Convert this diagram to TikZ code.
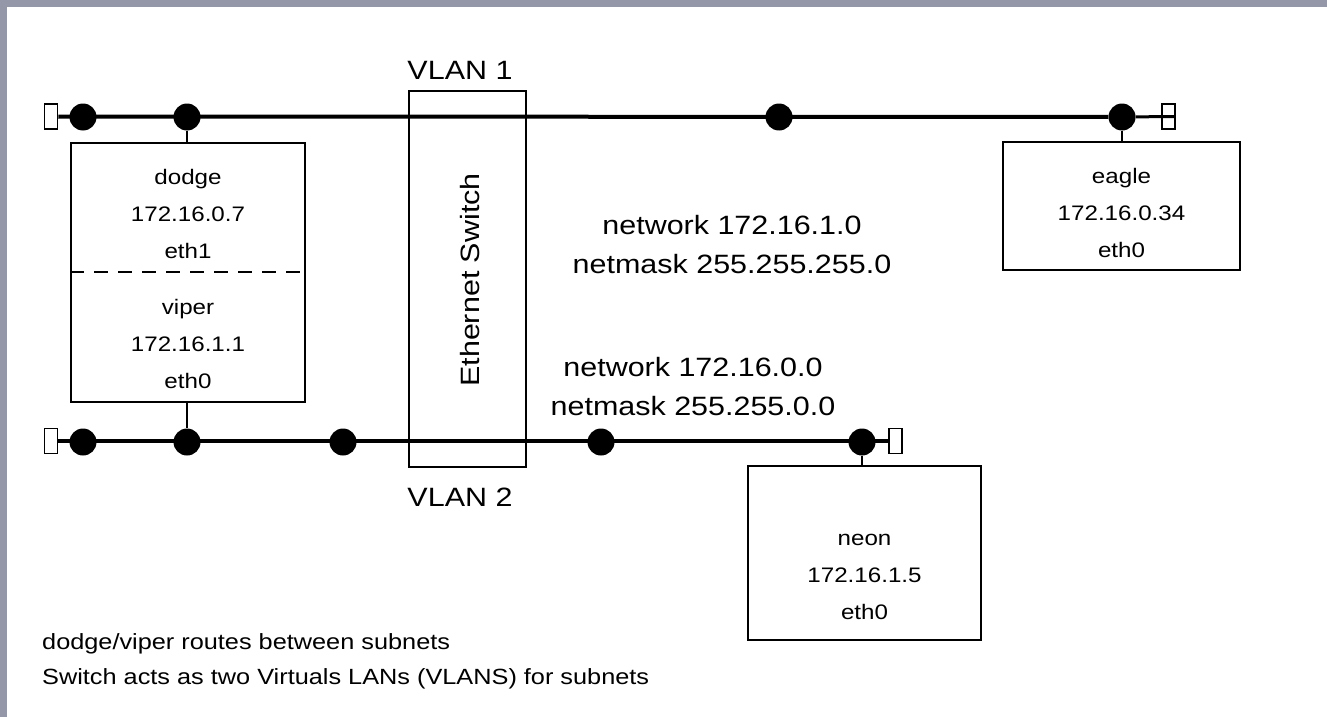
\documentclass[tikz,border=0pt]{standalone}
\usepackage{fontspec}
\setmainfont[FakeStretch=1.15]{Liberation Sans}
\usepackage{xcolor}
\usepackage{tikz}
\definecolor{framegray}{RGB}{148,151,168}

\begin{document}
\begin{tikzpicture}[x=1pt,y=-1pt,
    bus/.style={line width=4pt},
    stem/.style={line width=2pt},
    tap/.style={circle,fill=black,inner sep=0pt,minimum size=27pt},
    term/.style={draw,line width=1.5pt,fill=white,inner sep=0pt,minimum width=13pt,minimum height=25pt},
    hostbox/.style={draw,line width=2pt,inner sep=0pt},
    hosttext/.style={font=\fontsize{21}{37}\selectfont,align=center,inner sep=0pt},
    nettext/.style={font=\fontsize{26.5}{39}\selectfont,align=center,inner sep=0pt}]
    \useasboundingbox (0,0) rectangle (1327,717);
    \fill[white] (0,0) rectangle (1327,717);
    \fill[framegray] (0,0) rectangle (1327,7);
    \fill[framegray] (0,0) rectangle (7,717);
    %
    \node[term] (tl) at (51,116.5) {};
    \node[tap] (t1) at (83,117) {};
    \node[tap] (t2) at (187,117) {};
    \node[tap] (t3) at (779,117) {};
    \node[tap] (t4) at (1122,117) {};
    \node[term] (tr) at (1168.5,116.5) {};
    \draw[bus] (tl.east) -- (t4);
    \draw[line width=3pt] (t4) -- (tr.east);
    %
    \node[term] (bl) at (51,441) {};
    \node[tap] (b1) at (83,442) {};
    \node[tap] (b2) at (187,442) {};
    \node[tap] (b3) at (343,442) {};
    \node[tap] (b4) at (601,442) {};
    \node[tap] (b5) at (862,442) {};
    \node[term] (br) at (895.5,441) {};
    \draw[bus] (bl.east) -- (br.west);
    %
    \node[hostbox,minimum width=117,minimum height=376] (switch) at (467,279) {};
    \node[rotate=90,font=\fontsize{26.5}{30}\selectfont] (swlabel) at (470,280) {Ethernet Switch};
    \node[nettext] (vlan1) at (460,70) {VLAN 1};
    \node[nettext] (vlan2) at (460,497) {VLAN 2};
    %
    \node[hostbox,minimum width=234,minimum height=259] (router) at (188,272) {};
    \coordinate (split) at (188,272);
    \draw[stem] (t2) -- (t2 |- router.north);
    \draw[stem] (router.south -| b2) -- (b2);
    \draw[stem,dash pattern=on 14pt off 10pt] (router.west |- split) -- (router.east |- split);
    \node[hosttext] (dodge) at (188,214) {dodge\\172.16.0.7\\eth1};
    \node[hosttext] (viper) at (188,344) {viper\\172.16.1.1\\eth0};
    %
    \node[hostbox,minimum width=237,minimum height=128] (eagle) at (1121.5,206) {};
    \draw[stem] (t4) -- (t4 |- eagle.north);
    \node[hosttext] (eagletext) at (1121.5,213) {eagle\\172.16.0.34\\eth0};
    %
    \node[hostbox,minimum width=233,minimum height=174] (neon) at (864.5,553) {};
    \draw[stem] (b5) -- (b5 |- neon.north);
    \node[hosttext] (neontext) at (864.5,577) {neon\\172.16.1.5\\eth0};
    %
    \node[nettext] (net1) at (732,244.5) {network 172.16.1.0\\netmask 255.255.255.0};
    \node[nettext] (net0) at (693,387) {network 172.16.0.0\\netmask 255.255.0.0};
    %
    \node[anchor=north west,align=left,inner sep=0pt,font=\fontsize{22}{35}\selectfont] (note) at (42,633)
      {dodge/viper routes between subnets\\Switch acts as two Virtuals LANs (VLANS) for subnets};
\end{tikzpicture}
\end{document}
